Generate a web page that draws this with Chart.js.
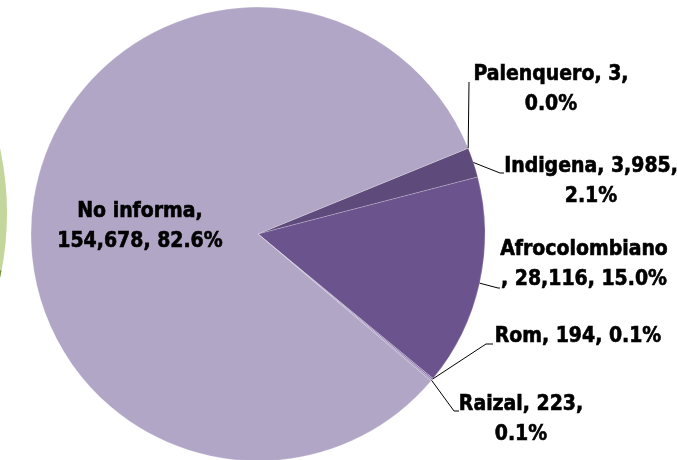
<!DOCTYPE html>
<html>
<head>
<meta charset="utf-8">
<script src="https://cdn.jsdelivr.net/npm/chart.js@4/dist/chart.umd.min.js"></script>
<style>
  html, body { margin: 0; padding: 0; background: #fff; }
  #wrap { width: 677px; height: 460px; position: relative; }
</style>
</head>
<body>
<div id="wrap"><canvas id="pieChart"></canvas></div>
<script>
// Data (clockwise from the top right)
const categories = ['Palenquero', 'Indigena', 'Afrocolombiano', 'Rom', 'Raizal', 'No informa'];
const counts = [3, 3985, 28116, 194, 223, 154678];
const sliceColors = ['#5f4a7c', '#5f4a7c', '#6b538d', '#8a74aa', '#a495bd', '#b1a6c6'];

// label placement: anchor x/y of the text block, line break and leader line elbow
const labelLayout = [
  { x: 551, y: 75, split: 2, elbow: [469, 82], end: [469, 82] },
  { x: 591, y: 167, split: 2, elbow: [500, 173], end: [504, 173] },
  { x: 584, y: 250, split: 1, commaNext: true, elbow: [498, 288], end: [500, 288] },
  { x: 578, y: 337, split: 3, elbow: [486, 344], end: [493, 344] },
  { x: 521, y: 405, split: 2, elbow: [454, 411], end: [459, 411] },
  { x: 140, y: 212, split: 1, noLine: true }
];

const labelFont = 'bold 21px "Liberation Sans Narrow", "DejaVu Sans Condensed", sans-serif';

function labelLines(i) {
  const total = counts.reduce((a, b) => a + b, 0);
  const parts = [categories[i], counts[i].toLocaleString('en-US'), (counts[i] / total * 100).toFixed(1) + '%'];
  const lay = labelLayout[i];
  if (lay.split >= parts.length) return [parts.join(', ')];
  const first = parts.slice(0, lay.split).join(', ');
  const rest = parts.slice(lay.split).join(', ');
  if (lay.commaNext) return [first, ', ' + rest];
  return [first + ',', rest];
}

// the edge of a neighbouring green pie peeking in at the left border
const sideArc = {
  id: 'sideArc',
  beforeDraw(chart) {
    const ctx = chart.ctx;
    ctx.save();
    ctx.beginPath();
    ctx.arc(-298, 213, 305, 0, Math.PI * 2);
    ctx.fillStyle = '#c3d69b';
    ctx.fill();
    ctx.beginPath();
    ctx.moveTo(-298, 213);
    ctx.arc(-298, 213, 305, 0.19, 0.3);
    ctx.closePath();
    ctx.fillStyle = '#77933c';
    ctx.fill();
    ctx.restore();
  }
};

const pieLabels = {
  id: 'pieLabels',
  afterDatasetsDraw(chart) {
    const ctx = chart.ctx;
    const arcs = chart.getDatasetMeta(0).data;
    ctx.save();
    ctx.font = labelFont;
    ctx.fillStyle = '#000';
    ctx.strokeStyle = '#000';
    ctx.textAlign = 'center';
    ctx.textBaseline = 'middle';
    arcs.forEach((arc, i) => {
      const lay = labelLayout[i];
      const lines = labelLines(i);
      ctx.lineWidth = 0.6;
      lines.forEach((t, k) => {
        ctx.fillText(t, lay.x, lay.y + k * 30);
        ctx.strokeText(t, lay.x, lay.y + k * 30);
      });
      if (lay.noLine) return;
      const mid = (arc.startAngle + arc.endAngle) / 2;
      const sx = arc.x + Math.cos(mid) * arc.outerRadius;
      const sy = arc.y + Math.sin(mid) * arc.outerRadius;
      ctx.beginPath();
      ctx.lineWidth = 1;
      ctx.moveTo(sx, sy);
      ctx.lineTo(lay.elbow[0], lay.elbow[1]);
      ctx.lineTo(lay.end[0], lay.end[1]);
      ctx.stroke();
    });
    ctx.restore();
  }
};

new Chart(document.getElementById('pieChart'), {
  type: 'pie',
  data: {
    labels: categories,
    datasets: [{
      data: counts,
      backgroundColor: sliceColors,
      borderColor: 'rgba(255,255,255,0.35)',
      borderWidth: 0.6,
      radius: 227,
      rotation: 67.8
    }]
  },
  options: {
    responsive: true,
    maintainAspectRatio: false,
    animation: false,
    layout: { padding: { left: 31, right: 192, top: 8, bottom: 0 } },
    plugins: {
      legend: { display: false },
      tooltip: { enabled: false }
    }
  },
  plugins: [sideArc, pieLabels]
});
</script>
</body>
</html>
